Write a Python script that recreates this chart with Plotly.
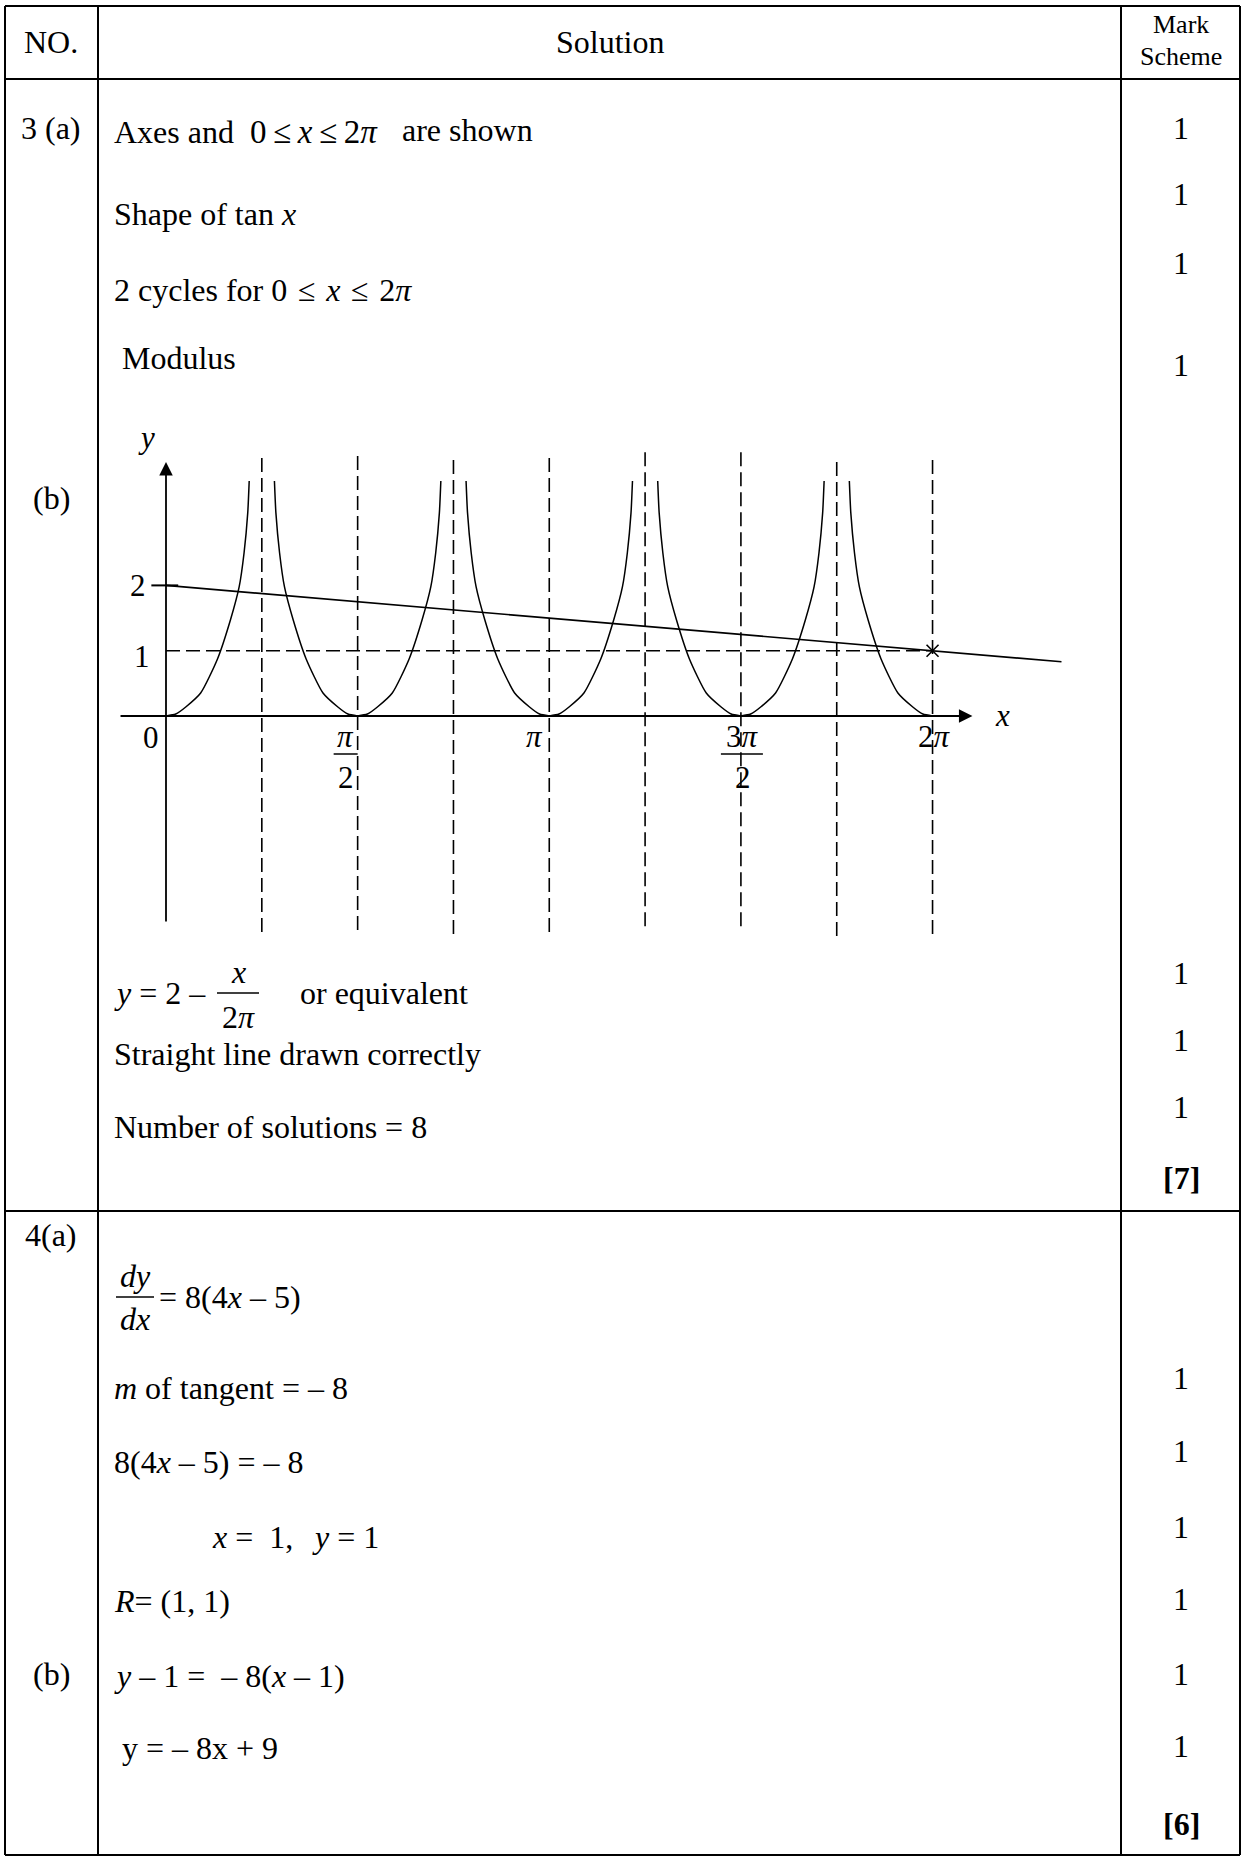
import math
import plotly.graph_objects as go

W, H = 1243, 1856
PI = math.pi

# ---------------- data ----------------
header_no = "NO."
header_solution = "Solution"
header_mark = ["Mark", "Scheme"]

NB = "\u00a0"
q3_lines = [
    "Axes and" + NB + " <span style='font-size:33px'>0\u2009≤\u2009<i>x</i>\u2009≤\u20092<i>π</i></span>",
    "are shown",
    "Shape of tan <i>x</i>",
    "2 cycles for" + NB + "0\u2004≤\u2004<i>x</i>\u2004≤\u20042<i>π</i>",
    " Modulus",
    "<i>y</i> = 2 –",
    "<i>x</i>",
    "2<i>π</i>",
    "or equivalent",
    "Straight line drawn correctly",
    "Number of solutions = 8",
]
q3_marks = ["1", "1", "1", "1", "1", "1", "1", "<b>[7]</b>"]

q4_lines = [
    "<i>dy</i>",
    "<i>dx</i>",
    "= 8(4<i>x</i> – 5)",
    "<i>m</i> of tangent = – 8",
    "8(4<i>x</i> – 5) = – 8",
    "<i>x</i> =  1,",
    "<i>y</i> = 1",
    "<i>R</i>= (1, 1)",
    "<i>y</i> – 1 =  – 8(<i>x</i> – 1)",
    " y = – 8x + 9",
]
q4_marks = ["1", "1", "1", "1", "1", "1", "<b>[6]</b>"]

part_labels = ["3 (a)", "(b)", "4(a)", "(b)"]

# graph: x in radians, y in graph units
branch_centres = [0, PI / 2, PI, 3 * PI / 2, 2 * PI]
branch_dx = [0, 0.08, 0.162, 0.284, 0.422, 0.528, 0.600, 0.640, 0.670, 0.682]
branch_y = [0, 0.03, 0.138, 0.352, 0.873, 1.47, 1.98, 2.50, 3.11, 3.60]
asymptote_x = [PI / 4, PI / 2, 3 * PI / 4, PI, 5 * PI / 4, 3 * PI / 2, 7 * PI / 4, 2 * PI]
asymptote_top = [3.95, 3.98, 3.92, 3.95, 4.04, 4.04, 3.89, 3.92]
asymptote_bottom = [-3.35, -3.32, -3.38, -3.35, -3.28, -3.23, -3.41, -3.38]
line_x = [0, 7.34]
line_y = [2.0, 0.83]
level_x = [0, 2 * PI]
level_y = [1, 1]
point_x = [2 * PI]
point_y = [1]
x_tick_vals = [PI / 2, PI, 3 * PI / 2, 2 * PI]
x_tick_top = ["<i>π</i>", "<i>π</i>", "3<i>π</i>", "2<i>π</i>"]
x_tick_bottom = ["2", "", "2", ""]
y_tick_vals = [2, 1, 0]
y_tick_text = ["2", "1", "0"]
x_axis_ends = [-0.385, 6.61]
y_axis_ends = [-3.17, 3.89]

# ---------------- layout constants ----------------
FONT = "Liberation Serif, Times New Roman, serif"
FS = 32
GFS = 31
X0, XS = 166.0, 122.0         # pixel of x=0, pixels per unit
Y0, YS = 716.0, 65.3          # pixel of y=0, pixels per unit
G_LEFT, G_RIGHT, G_TOP, G_BOTTOM = 100, 1110, 400, 965


def px(x):
    return x / W


def py(y):
    return 1 - y / H


fig = go.Figure()

# curves |tan 2x|
cx, cy = [], []
for c in branch_centres:
    if c > 0.01:
        cx += [c - d for d in branch_dx] + [None]
        cy += branch_y + [None]
    if c < 2 * PI - 0.01:
        cx += [c + d for d in branch_dx] + [None]
        cy += branch_y + [None]
fig.add_trace(go.Scatter(x=cx, y=cy, mode="lines", line=dict(color="black", width=1.5, shape="spline", smoothing=0.6),
                         hoverinfo="skip", showlegend=False))

DASH = "14px,6px"
vx, vy = [], []
for xv, t, b in zip(asymptote_x, asymptote_top, asymptote_bottom):
    vx += [xv, xv, None]
    vy += [t, b, None]
fig.add_trace(go.Scatter(x=vx, y=vy, mode="lines", line=dict(color="black", width=1.6, dash=DASH),
                         hoverinfo="skip", showlegend=False))
fig.add_trace(go.Scatter(x=level_x, y=level_y, mode="lines", line=dict(color="black", width=1.6, dash=DASH),
                         hoverinfo="skip", showlegend=False))
fig.add_trace(go.Scatter(x=line_x, y=line_y, mode="lines", line=dict(color="black", width=1.6),
                         hoverinfo="skip", showlegend=False))
fig.add_trace(go.Scatter(x=[-0.12, 0.1], y=[y_tick_vals[0]] * 2, mode="lines", line=dict(color="black", width=2),
                         hoverinfo="skip", showlegend=False))
fig.add_trace(go.Scatter(x=point_x, y=point_y, mode="markers",
                         marker=dict(symbol="x-thin", size=12, line=dict(color="black", width=1.6)),
                         hoverinfo="skip", showlegend=False))

annotations = []
annotations.append(dict(x=0, y=y_axis_ends[1], ax=0, ay=y_axis_ends[0], xref="x", yref="y", axref="x", ayref="y",
                        text="", showarrow=True, arrowhead=2, arrowsize=1.5, arrowwidth=1.8, arrowcolor="black",
                        standoff=0))
annotations.append(dict(x=x_axis_ends[1], y=0, ax=x_axis_ends[0], ay=0, xref="x", yref="y", axref="x", ayref="y",
                        text="", showarrow=True, arrowhead=2, arrowsize=1.5, arrowwidth=1.8, arrowcolor="black",
                        standoff=0))

gfont = dict(family=FONT, size=GFS, color="black")
annotations.append(dict(x=-0.16, y=4.26, xref="x", yref="y", text="<i>y</i>", showarrow=False, font=gfont))
annotations.append(dict(x=6.86, y=0, xref="x", yref="y", text="<i>x</i>", showarrow=False, font=gfont))
for v, t, dx, dy in zip(y_tick_vals, y_tick_text, [-0.23, -0.2, -0.12], [0, -6, -22]):
    annotations.append(dict(x=dx, y=v, xref="x", yref="y", text=t, showarrow=False, font=gfont, yshift=dy))
for v, top, bot, xs in zip(x_tick_vals, x_tick_top, x_tick_bottom, [-12, -15, 2, 2]):
    annotations.append(dict(x=v, y=0, xref="x", yref="y", text=top, showarrow=False, font=gfont,
                            xshift=xs, yshift=-21))
    if bot:
        annotations.append(dict(x=v, y=0, xref="x", yref="y", text=bot, showarrow=False, font=gfont,
                                xshift=xs, yshift=-62))

shapes = []
for v, x_lo, x_hi in [(x_tick_vals[0], -24, 0), (x_tick_vals[2], -20, 22)]:
    shapes.append(dict(type="line", xref="x", yref="y", x0=v + x_lo / XS, x1=v + x_hi / XS,
                       y0=-38 / YS, y1=-38 / YS, line=dict(color="black", width=1.5)))

# table lines
TL = dict(color="black", width=2)
L, R, T, B = 5, 1240, 6, 1855
C1, C2 = 98, 1121
HDR, ROW = 79, 1211
for (x0, y0, x1, y1) in [(L, T, R, T), (L, B, R, B), (L, T, L, B), (R, T, R, B), (C1, T, C1, B), (C2, T, C2, B),
                          (L, HDR, R, HDR), (L, ROW, R, ROW)]:
    shapes.append(dict(type="line", xref="paper", yref="paper", x0=px(x0), y0=py(y0), x1=px(x1), y1=py(y1), line=TL))

for (x0, x1, y) in [(217, 259, 993), (116, 154, 1297)]:
    shapes.append(dict(type="line", xref="paper", yref="paper", x0=px(x0), x1=px(x1), y0=py(y), y1=py(y),
                       line=dict(color="black", width=1.5)))


def text(x, y, s, anchor="left", size=FS):
    annotations.append(dict(x=px(x), y=py(y), xref="paper", yref="paper", text=s, showarrow=False,
                            xanchor=anchor, yanchor="middle", font=dict(family=FONT, size=size, color="black")))


text(51, 42, header_no, "center")
text(610, 42, header_solution, "center")
text(1181, 25, header_mark[0], "center", 26)
text(1181, 57, header_mark[1], "center", 26)

for s, y in zip(part_labels, [128, 498, 1235, 1674]):
    text(51, y, s, "center")

q3_pos = [(112, 132), (400, 130), (112, 214), (112, 290), (112, 358),
          (112, 993), (238, 972), (238, 1017), (298, 993), (112, 1054), (112, 1127)]
q3_anchor = ["left", "left", "left", "left", "left", "left", "center", "center", "left", "left", "left"]
for s, (x, y), a in zip(q3_lines, q3_pos, q3_anchor):
    text(x, y, s, a)
for s, y in zip(q3_marks, [128, 194, 263, 365, 973, 1040, 1107, 1178]):
    text(1181, y, s, "center")

q4_pos = [(135, 1276), (135, 1319), (157, 1297), (112, 1388), (112, 1462), (210, 1537), (310, 1537),
          (112, 1601), (112, 1676), (112, 1748)]
q4_anchor = ["center", "center", "left", "left", "left", "left", "left", "left", "left", "left"]
for s, (x, y), a in zip(q4_lines, q4_pos, q4_anchor):
    text(x, y, s, a)
for s, y in zip(q4_marks, [1378, 1451, 1527, 1599, 1674, 1746, 1824]):
    text(1181, y, s, "center")

fig.update_layout(
    width=W, height=H, margin=dict(l=0, r=0, t=0, b=0),
    paper_bgcolor="white", plot_bgcolor="rgba(0,0,0,0)",
    showlegend=False,
    xaxis=dict(domain=[px(G_LEFT), px(G_RIGHT)], range=[(G_LEFT - X0) / XS, (G_RIGHT - X0) / XS],
               visible=False, showgrid=False, zeroline=False, fixedrange=True),
    yaxis=dict(domain=[py(G_BOTTOM), py(G_TOP)], range=[(Y0 - G_BOTTOM) / YS, (Y0 - G_TOP) / YS],
               visible=False, showgrid=False, zeroline=False, fixedrange=True),
    shapes=shapes,
    annotations=annotations,
)

fig.write_html("out.html", config={"displayModeBar": False, "staticPlot": True},
               post_script="document.body.style.margin='0px';")
